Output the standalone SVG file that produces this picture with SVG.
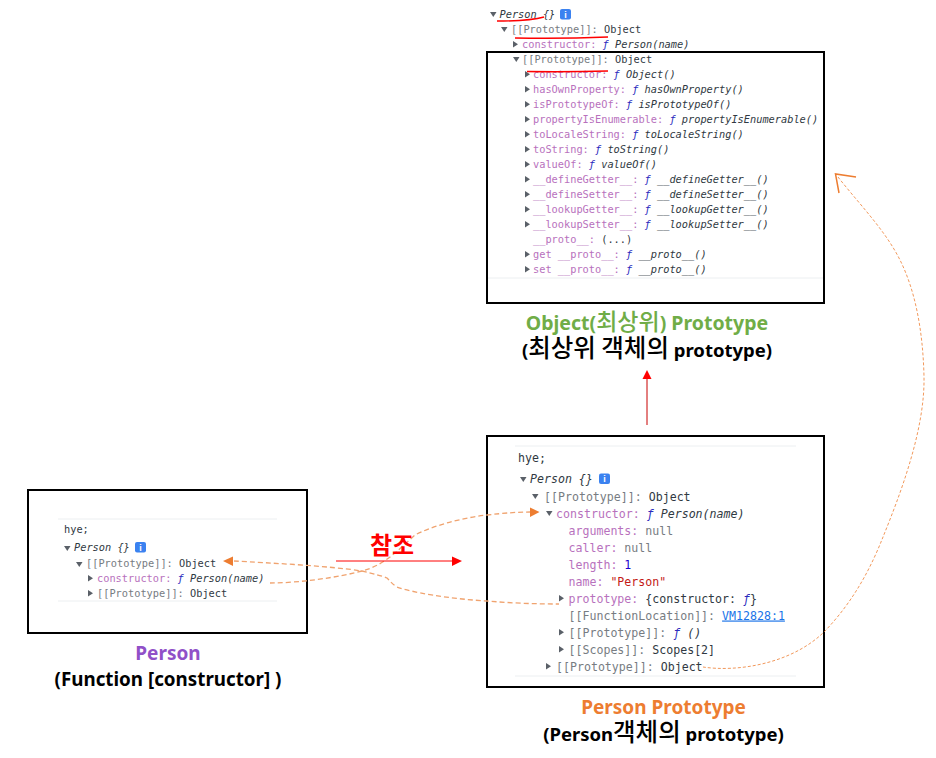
<svg xmlns="http://www.w3.org/2000/svg" width="936" height="758" viewBox="0 0 936 758">
<style>
text{white-space:pre}
.c{font-family:"DejaVu Sans Mono","Liberation Mono",monospace;font-size:10.3px;fill:#303942}
.m{font-size:11.6px}
.p{fill:#b871bd}.g{fill:#777c82}.i{font-style:italic}.b{fill:#2b2bbd;font-style:italic}
.box{fill:#fff;stroke:#000;stroke-width:2}
.sep{stroke:#eceff1;stroke-width:1}
.t{fill:#5a6068}
.cap{font-family:"Noto Sans","Noto Sans CJK KR",sans-serif;font-size:18.5px;font-weight:700;text-anchor:middle;fill:#000}
.k{font-family:"Noto Sans CJK KR",sans-serif;font-size:24.5px;font-weight:500}
.k1{font-family:"Noto Sans CJK KR",sans-serif;font-size:23px;font-weight:500}
.conn{fill:none;stroke:#f0a36f;stroke-width:1.3;stroke-dasharray:5 3}
.thin{stroke:#ed7d31;stroke-width:.8;stroke-dasharray:3 2}
.u{fill:none;stroke:#f00;stroke-width:1.5}
</style>
<defs>
<path id="d" class="t" d="M0 0h6.5l-3.2 5z"/>
<path id="r" class="t" d="M0 0l5 3.2l-5 3.2z"/>
<g id="info"><rect width="11" height="10.500" rx="2" fill="#3b82f0"/><text x="5.500" y="8.500" font-family="Liberation Sans,sans-serif" font-size="9" font-weight="700" fill="#fff" text-anchor="middle">i</text></g>
</defs>

<g id="node-object">
<rect class="box" x="487" y="52" width="337" height="251"/>
<line class="sep" x1="488" y1="278" x2="823" y2="278"/>
<use href="#d" x="490" y="12"/><text class="c i" x="499.500" y="18">Person {}</text><use href="#info" x="560" y="9"/>
<use href="#d" x="501" y="27"/><text class="c" x="511" y="33"><tspan class="g">[[Prototype]]:</tspan> Object</text>
<use href="#r" x="513" y="41"/><text class="c" x="522" y="48"><tspan class="p">constructor:</tspan> <tspan class="b">ƒ</tspan><tspan class="i"> Person(name)</tspan></text>
<use href="#d" x="513" y="57"/><text class="c" x="522" y="63"><tspan class="g">[[Prototype]]:</tspan> Object</text>
<use href="#r" x="525" y="71"/><text class="c" x="533" y="78"><tspan class="p">constructor:</tspan> <tspan class="b">ƒ</tspan><tspan class="i"> Object()</tspan></text>
<use href="#r" x="525" y="86"/><text class="c" x="533" y="93"><tspan class="p">hasOwnProperty:</tspan> <tspan class="b">ƒ</tspan><tspan class="i"> hasOwnProperty()</tspan></text>
<use href="#r" x="525" y="101"/><text class="c" x="533" y="108"><tspan class="p">isPrototypeOf:</tspan> <tspan class="b">ƒ</tspan><tspan class="i"> isPrototypeOf()</tspan></text>
<use href="#r" x="525" y="116"/><text class="c" x="533" y="123"><tspan class="p">propertyIsEnumerable:</tspan> <tspan class="b">ƒ</tspan><tspan class="i"> propertyIsEnumerable()</tspan></text>
<use href="#r" x="525" y="131"/><text class="c" x="533" y="138"><tspan class="p">toLocaleString:</tspan> <tspan class="b">ƒ</tspan><tspan class="i"> toLocaleString()</tspan></text>
<use href="#r" x="525" y="146"/><text class="c" x="533" y="153"><tspan class="p">toString:</tspan> <tspan class="b">ƒ</tspan><tspan class="i"> toString()</tspan></text>
<use href="#r" x="525" y="161"/><text class="c" x="533" y="168"><tspan class="p">valueOf:</tspan> <tspan class="b">ƒ</tspan><tspan class="i"> valueOf()</tspan></text>
<use href="#r" x="525" y="176"/><text class="c" x="533" y="183"><tspan class="p">__defineGetter__:</tspan> <tspan class="b">ƒ</tspan><tspan class="i"> __defineGetter__()</tspan></text>
<use href="#r" x="525" y="191"/><text class="c" x="533" y="198"><tspan class="p">__defineSetter__:</tspan> <tspan class="b">ƒ</tspan><tspan class="i"> __defineSetter__()</tspan></text>
<use href="#r" x="525" y="206"/><text class="c" x="533" y="213"><tspan class="p">__lookupGetter__:</tspan> <tspan class="b">ƒ</tspan><tspan class="i"> __lookupGetter__()</tspan></text>
<use href="#r" x="525" y="221"/><text class="c" x="533" y="228"><tspan class="p">__lookupSetter__:</tspan> <tspan class="b">ƒ</tspan><tspan class="i"> __lookupSetter__()</tspan></text>
<text class="c" x="533" y="243"><tspan class="p">__proto__:</tspan> (...)</text>
<use href="#r" x="525" y="251"/><text class="c" x="533" y="258"><tspan class="p">get __proto__:</tspan> <tspan class="b">ƒ</tspan><tspan class="i"> __proto__()</tspan></text>
<use href="#r" x="525" y="266"/><text class="c" x="533" y="273"><tspan class="p">set __proto__:</tspan> <tspan class="b">ƒ</tspan><tspan class="i"> __proto__()</tspan></text>
<path class="u" d="M497 21Q530 21 544 17"/><path class="u" d="M515 38Q560 39 608 37"/><path class="u" d="M527 71.500Q570 72 608 71"/>
<text class="cap" x="647" y="330" style="fill:#70ad47;font-size:19.5px">Object(<tspan class="k1">최상위</tspan>) Prototype</text>
<text class="cap" x="647" y="357">(<tspan class="k">최상위 객체의</tspan> prototype)</text>
</g>

<g id="node-person-prototype">
<rect class="box" x="487" y="436" width="337" height="251"/>
<line class="sep" x1="515" y1="446" x2="796" y2="446"/><line class="sep" x1="515" y1="676" x2="796" y2="676"/>
<text class="c m" x="518" y="462">hye;</text>
<use href="#d" x="520" y="477"/><text class="c i m" x="530" y="482.500">Person {}</text><use href="#info" x="599" y="473.500"/>
<use href="#d" x="532" y="494"/><text class="c m" x="544" y="500.500"><tspan class="g">[[Prototype]]:</tspan> Object</text>
<use href="#d" x="546" y="511"/><text class="c m" x="556" y="517.500"><tspan class="p">constructor:</tspan> <tspan class="b">ƒ</tspan><tspan class="i"> Person(name)</tspan></text>
<text class="c m" x="568.500" y="534.500"><tspan class="p">arguments:</tspan> <tspan class="g">null</tspan></text>
<text class="c m" x="568.500" y="551.500"><tspan class="p">caller:</tspan> <tspan class="g">null</tspan></text>
<text class="c m" x="568.500" y="568.500"><tspan class="p">length:</tspan> <tspan fill="#1c00cf">1</tspan></text>
<text class="c m" x="568.500" y="585.500"><tspan class="p">name:</tspan> <tspan fill="#c41a16">"Person"</tspan></text>
<use href="#r" x="559" y="595"/><text class="c m" x="568.500" y="602.500"><tspan class="p">prototype:</tspan> {constructor: <tspan class="b">ƒ</tspan>}</text>
<text class="c m" x="568.500" y="619.500"><tspan class="g">[[FunctionLocation]]:</tspan> <tspan fill="#1a73e8" text-decoration="underline">VM12828:1</tspan></text>
<use href="#r" x="559" y="629"/><text class="c m" x="568.500" y="636.500"><tspan class="g">[[Prototype]]:</tspan> <tspan class="b">ƒ</tspan><tspan class="i"> ()</tspan></text>
<use href="#r" x="559" y="646"/><text class="c m" x="568.500" y="653.500"><tspan class="g">[[Scopes]]:</tspan> Scopes[2]</text>
<use href="#r" x="546" y="663"/><text class="c m" x="556" y="670.500"><tspan class="g">[[Prototype]]:</tspan> Object</text>
<text class="cap" x="663.500" y="714" style="fill:#ed7d31;font-size:19px">Person Prototype</text>
<text class="cap" x="663.500" y="741">(Person<tspan class="k">객체의</tspan> prototype)</text>
</g>

<g id="node-person">
<rect class="box" x="28" y="490" width="279" height="143"/>
<line class="sep" x1="58" y1="519" x2="277" y2="519"/><line class="sep" x1="58" y1="601" x2="277" y2="601"/>
<text class="c" x="64" y="533">hye;</text>
<use href="#d" x="64" y="546"/><text class="c i" x="74" y="551">Person {}</text><use href="#info" x="135" y="542"/>
<use href="#d" x="76" y="562"/><text class="c" x="86" y="567"><tspan class="g">[[Prototype]]:</tspan> Object</text>
<use href="#r" x="88" y="575"/><text class="c" x="97" y="582"><tspan class="p">constructor:</tspan> <tspan class="b">ƒ</tspan><tspan class="i"> Person(name)</tspan></text>
<use href="#r" x="88" y="590"/><text class="c" x="97" y="597"><tspan class="g">[[Prototype]]:</tspan> Object</text>
<text class="cap" x="168" y="660" style="fill:#9050c8;font-size:19px">Person</text>
<text class="cap" x="168" y="686" style="font-size:18.800px">(Function [constructor] )</text>
</g>

<g id="connectors">
<path class="conn" d="M270 583C300 583 340 577 362 571C385 565 398 550 415 535C430 527 460 518 487 515C505 513 518 512 530 512"/>
<path class="conn" d="M234 561C270 563 330 566 362 571C375 574 382 576 387 578C391 582 392 584 397 587C410 592 450 599 487 601C510 603 535 604 559 604"/>
<path class="conn thin" d="M703 667C735 672 790 665 824 632C855 600 872 565 883 537C900 495 925 430 924 377C923 330 915 290 900 260C885 230 860 205 838 177"/>
<polygon points="530,507.500 539.500,512 530,517" fill="#ed7d31"/>
<polygon points="223,561 233,556.500 233,566" fill="#ed7d31"/>
<path d="M856 177L835.500 174L839 193" fill="none" stroke="#ed7d31" stroke-width="1.500"/>
<line x1="336" y1="561" x2="455" y2="561" stroke="#f00" stroke-width="1"/>
<polygon points="452,556.500 462,561 452,566" fill="#f00"/>
<line x1="647" y1="425" x2="647" y2="378" stroke="#c80000" stroke-width="1"/>
<polygon points="642.500,379 647,370 651.500,379" fill="#f00"/>
</g>
<text id="label-ref" x="392" y="554" font-family="Noto Sans CJK KR,sans-serif" font-size="24" font-weight="700" fill="#f00" text-anchor="middle">참조</text>
</svg>
